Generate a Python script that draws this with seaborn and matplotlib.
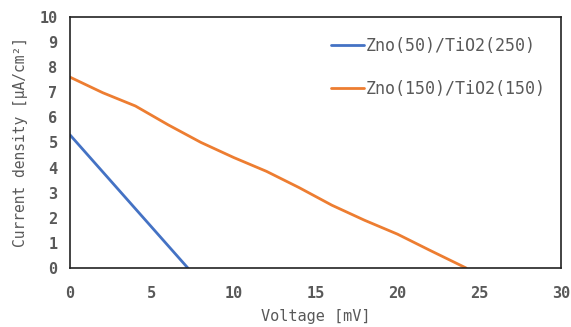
import numpy as np
import pandas as pd
import matplotlib
matplotlib.use("Agg")
import matplotlib.pyplot as plt
import seaborn as sns

# data
volt_a = [0.0, 7.2]
curr_a = [5.3, 0.0]
volt_b = [0, 2, 4, 6, 8, 10, 12, 14, 16, 18, 20, 22, 24.2]
curr_b = [7.6, 6.98, 6.45, 5.7, 5.0, 4.4, 3.85, 3.2, 2.5, 1.9, 1.35, 0.7, 0.0]
labels = ["Zno(50)/TiO2(250)", "Zno(150)/TiO2(150)"]

df = pd.concat([
    pd.DataFrame({"v": volt_a, "j": curr_a, "sample": labels[0]}),
    pd.DataFrame({"v": volt_b, "j": curr_b, "sample": labels[1]}),
])

sns.set_style("white")
plt.rcParams['font.family'] = ['DejaVu Sans Mono']

fig = plt.figure(figsize=(5.71, 3.27), dpi=100)
ax = fig.add_axes([0.1226, 0.1804, 0.86, 0.768])
sns.lineplot(data=df, x="v", y="j", hue="sample", sort=False,
             palette=["#4472C4", "#ED7D31"], linewidth=2, ax=ax)

ax.set_xlim(0, 30)
ax.set_ylim(0, 10)
ax.set_xticks(range(0, 31, 5))
ax.set_yticks(range(0, 11))
ax.tick_params(direction="in", length=5, width=1.2, color="#222222",
               labelsize=11, labelcolor="#595959")
ax.tick_params(axis="x", pad=13)
ax.tick_params(axis="y", pad=9)
for lab in ax.get_xticklabels() + ax.get_yticklabels():
    lab.set_fontweight("bold")
for s in ax.spines.values():
    s.set_color("#222222")
    s.set_linewidth(1.2)

ax.set_xlabel("Voltage [mV]", fontsize=11, color="#595959", labelpad=6)
ax.set_ylabel("Current density [μA/cm²]", fontsize=10.5, color="#595959", labelpad=8)

leg = ax.legend(frameon=False, loc="upper right", fontsize=12, handlelength=2.0,
                handletextpad=0.1, labelspacing=1.5, bbox_to_anchor=(1.0, 0.98))
for t in leg.get_texts():
    t.set_color("#595959")

fig.savefig("out.png", dpi=100)
